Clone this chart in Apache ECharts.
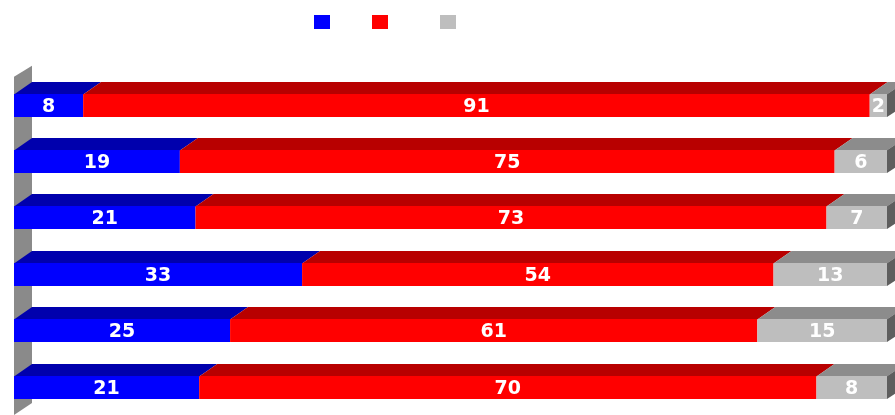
<!DOCTYPE html>
<html>
<head>
<meta charset="utf-8">
<script src="https://cdn.jsdelivr.net/npm/echarts@6/dist/echarts.min.js"></script>
<style>
html,body{margin:0;padding:0;background:#fff;}
#chart{width:895px;height:415px;}
</style>
</head>
<body>
<div id="chart"></div>
<script>
const categories = ['1', '2', '3', '4', '5', '6'];
const blueValues = [8, 19, 21, 33, 25, 21];
const redValues = [91, 75, 73, 54, 61, 70];
const grayValues = [2, 6, 7, 13, 15, 8];
const seriesNames = ['A', 'B', 'C'];

const DX = 18, DY = 12;
const palette = [
  {front: '#0000ff', top: '#0000ad', side: '#00007a'},
  {front: '#ff0000', top: '#b80000', side: '#800000'},
  {front: '#bebebe', top: '#8c8c8c', side: '#5e5e5e'}
];

const allValues = [blueValues, redValues, grayValues];
const totals = categories.map((c, i) => allValues.reduce((s, arr) => s + arr[i], 0));

function buildData(k) {
  return categories.map((c, i) => {
    let start = 0;
    for (let j = 0; j < k; j++) start += allValues[j][i];
    const end = start + allValues[k][i];
    return [i, start / totals[i] * 100, end / totals[i] * 100, allValues[k][i]];
  });
}

function makeRender(k, isLast) {
  const col = palette[k];
  return function (params, api) {
    const cat = api.value(0);
    const p0 = api.coord([api.value(1), cat]);
    const p1 = api.coord([api.value(2), cat]);
    const band = api.size([0, 1])[1];
    const h = band * 0.4;
    const yTop = Math.round(p0[1] - h / 2);
    const yBot = Math.round(yTop + h);
    const x0 = p0[0], x1 = p1[0];
    const children = [];
    if (isLast) {
      children.push({type: 'polygon', shape: {points: [[x1, yTop], [x1 + DX, yTop - DY], [x1 + DX, yBot - DY], [x1, yBot]]}, style: {fill: col.side}});
    }
    children.push(
      {type: 'polygon', shape: {points: [[x0, yTop + 0.5], [x1, yTop + 0.5], [x1 + DX, yTop - DY], [x0 + DX, yTop - DY]]}, style: {fill: col.top}},
      {type: 'rect', shape: {x: x0, y: yTop, width: x1 - x0, height: yBot - yTop}, style: {fill: col.front}},
      {type: 'text', style: {text: String(api.value(3)), x: (x0 + x1) / 2, y: (yTop + yBot) / 2 + 1.5, align: 'center', verticalAlign: 'middle', fill: '#ffffff', font: 'bold 19px "DejaVu Sans"'}}
    );
    return {type: 'group', children: children};
  };
}

function renderWall(params, api) {
  const cs = params.coordSys;
  return {
    type: 'polygon',
    shape: {points: [[cs.x, cs.y], [cs.x + DX, cs.y - DY + 1], [cs.x + DX, cs.y + cs.height - DY], [cs.x, cs.y + cs.height]]},
    style: {fill: '#8a8a8a'}
  };
}

const chart = echarts.init(document.getElementById('chart'), null, {renderer: 'canvas'});
const series = [{
  type: 'custom', name: 'wall', renderItem: renderWall, data: [[0, 0, 0, 0]], silent: true,
  encode: {x: 1, y: 0}
}];
for (let k = 0; k < 3; k++) {
  series.push({
    type: 'custom', name: seriesNames[k], renderItem: makeRender(k, k === 2),
    itemStyle: {color: palette[k].front},
    data: buildData(k), encode: {x: [1, 2], y: 0}
  });
}
const legendPos = [314, 372, 440];
chart.setOption({
  animation: false,
  backgroundColor: '#ffffff',
  legend: seriesNames.map((n, k) => ({
    data: [n], left: legendPos[k], top: 15, itemWidth: 16, itemHeight: 14, icon: 'rect',
    selectedMode: false, formatter: () => '', padding: 0, itemGap: 0
  })),
  grid: {left: 14, top: 76.7, width: 873, height: 345.6, containLabel: false},
  xAxis: {type: 'value', min: 0, max: 100, show: false},
  yAxis: {type: 'category', data: categories, inverse: true, show: false},
  series: series
});
</script>
</body>
</html>
